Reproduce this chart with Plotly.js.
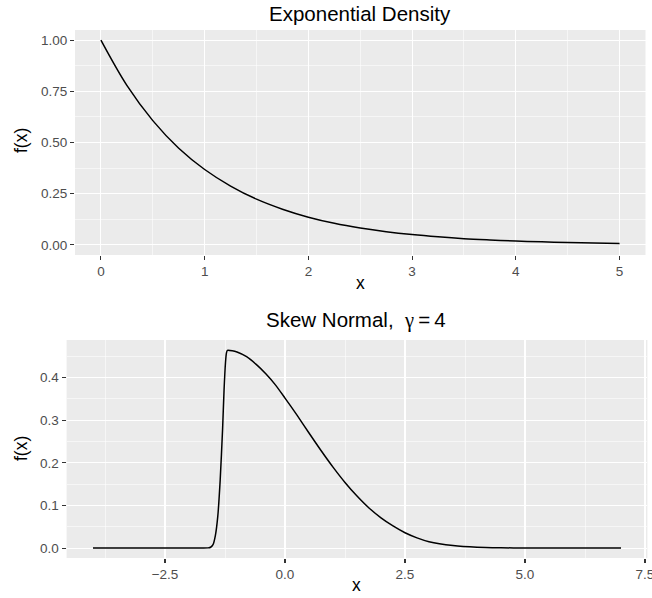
<!DOCTYPE html>
<html>
<head>
<meta charset="utf-8">
<script src="https://cdn.plot.ly/plotly-3.0.1.min.js"></script>
<style>html,body{margin:0;padding:0;background:#fff;}#chart{width:652px;height:598px;}</style>
</head>
<body>
<div id="chart"></div>
<script>
// Exponential density
const expX = [0, 0.25, 0.5, 0.75, 1, 1.25, 1.5, 1.75, 2, 2.25, 2.5, 2.75, 3, 3.25, 3.5, 3.75, 4, 4.25, 4.5, 4.75, 5];
const expY = [1.0, 0.779, 0.607, 0.472, 0.368, 0.287, 0.223, 0.174, 0.135, 0.105, 0.082, 0.064, 0.050, 0.039, 0.030, 0.0235, 0.018, 0.0143, 0.011, 0.0087, 0.0067];

// Skew normal, gamma = 4
const snX = [-4, -3, -2, -1.7, -1.6, -1.55, -1.5, -1.45, -1.4, -1.35, -1.3, -1.27, -1.24, -1.22, -1.2, -1.1, -1.0, -0.8, -0.6, -0.4, -0.2, 0, 0.25, 0.5, 0.75, 1.0, 1.25, 1.5, 1.75, 2.0, 2.25, 2.5, 2.75, 3.0, 3.5, 4.0, 4.5, 5, 6, 7];
const snY = [0, 0, 0, 0, 0.0005, 0.002, 0.008, 0.03, 0.075, 0.16, 0.28, 0.37, 0.435, 0.458, 0.464, 0.463, 0.460, 0.449, 0.431, 0.409, 0.383, 0.352, 0.312, 0.270, 0.229, 0.190, 0.154, 0.122, 0.094, 0.071, 0.052, 0.036, 0.024, 0.015, 0.006, 0.002, 0.0007, 0.0002, 0, 0];

const topTitle = "Exponential Density";
const botTitle = "Skew Normal,\u00A0\u00A0<span style=\"font-family:'Liberation Serif', 'DejaVu Serif', serif\">\u03B3</span>\u2009=\u20094";
const xLabel = "x";
const yLabel = "f(x)";

const W = 652, H = 598;
const px = v => v / W;
const py = v => 1 - v / H;

const FONT = "Liberation Sans, Arial, Helvetica, sans-serif";
const tickFont = {family: FONT, size: 13.5, color: "#4D4D4D"};

function axisBase() {
  return {
    showline: false, zeroline: false,
    showgrid: true, gridcolor: "#FFFFFF", gridwidth: 1.1,
    ticks: "outside", ticklen: 4, tickwidth: 1.1, tickcolor: "#333333",
    tickfont: tickFont, fixedrange: true, ticklabeloverflow: "allow"
  };
}

const traces = [
  {x: expX, y: expY, type: "scatter", mode: "lines", xaxis: "x", yaxis: "y",
   line: {color: "#000000", width: 1.5, shape: "spline", smoothing: 1}, hoverinfo: "skip"},
  {x: snX, y: snY, type: "scatter", mode: "lines", xaxis: "x2", yaxis: "y2",
   line: {color: "#000000", width: 1.5, shape: "spline", smoothing: 0.6}, hoverinfo: "skip"}
];

const layout = {
  width: W, height: H,
  margin: {l: 0, r: 0, t: 0, b: 0},
  paper_bgcolor: "#FFFFFF",
  plot_bgcolor: "#EBEBEB",
  showlegend: false,
  xaxis: Object.assign(axisBase(), {
    domain: [px(75), px(645.5)], anchor: "y",
    range: [-0.25, 5.25], tickmode: "array", tickvals: [0,1,2,3,4,5], ticktext: ["0","1","2","3","4","5"],
    minor: {dtick: 0.5, tick0: 0.5, showgrid: true, gridcolor: "#FFFFFF", gridwidth: 0.55, ticks: ""}
  }),
  yaxis: Object.assign(axisBase(), {
    domain: [py(255), py(30)], anchor: "x",
    range: [-0.05, 1.05], tickmode: "array", tickvals: [0,0.25,0.5,0.75,1], ticktext: ["0.00","0.25","0.50","0.75","1.00"],
    minor: {dtick: 0.25, tick0: 0.125, showgrid: true, gridcolor: "#FFFFFF", gridwidth: 0.55, ticks: ""}
  }),
  xaxis2: Object.assign(axisBase(), {
    domain: [px(66.6), px(647.4)], anchor: "y2",
    range: [-4.55, 7.55], tickmode: "array", tickvals: [-2.5,0,2.5,5,7.5], ticktext: ["\u22122.5","0.0","2.5","5.0","7.5"],
    minor: {dtick: 2.5, tick0: -3.75, showgrid: true, gridcolor: "#FFFFFF", gridwidth: 0.55, ticks: ""}
  }),
  yaxis2: Object.assign(axisBase(), {
    domain: [py(558), py(340)], anchor: "x2",
    range: [-0.02325, 0.48825], tickmode: "array", tickvals: [0,0.1,0.2,0.3,0.4], ticktext: ["0.0","0.1","0.2","0.3","0.4"],
    minor: {dtick: 0.1, tick0: 0.05, showgrid: true, gridcolor: "#FFFFFF", gridwidth: 0.55, ticks: ""}
  }),
  annotations: [
    {text: topTitle, xref: "paper", yref: "paper", x: px(360), y: py(14), xanchor: "center", yanchor: "middle",
     showarrow: false, font: {family: FONT, size: 20.5, color: "#000000"}},
    {text: botTitle, xref: "paper", yref: "paper", x: px(356), y: py(320), xanchor: "center", yanchor: "middle",
     showarrow: false, font: {family: FONT, size: 20.5, color: "#000000"}},
    {text: xLabel, xref: "paper", yref: "paper", x: px(360), y: py(283), xanchor: "center", yanchor: "middle",
     showarrow: false, font: {family: FONT, size: 17.5, color: "#000000"}},
    {text: xLabel, xref: "paper", yref: "paper", x: px(357), y: py(585), xanchor: "center", yanchor: "middle",
     showarrow: false, font: {family: FONT, size: 17.5, color: "#000000"}},
    {text: yLabel, xref: "paper", yref: "paper", x: px(21), y: py(141), xanchor: "center", yanchor: "middle", textangle: -90,
     showarrow: false, font: {family: FONT, size: 17.5, color: "#000000"}},
    {text: yLabel, xref: "paper", yref: "paper", x: px(21), y: py(449), xanchor: "center", yanchor: "middle", textangle: -90,
     showarrow: false, font: {family: FONT, size: 17.5, color: "#000000"}}
  ]
};

Plotly.newPlot("chart", traces, layout, {staticPlot: true, displayModeBar: false});
</script>
</body>
</html>
